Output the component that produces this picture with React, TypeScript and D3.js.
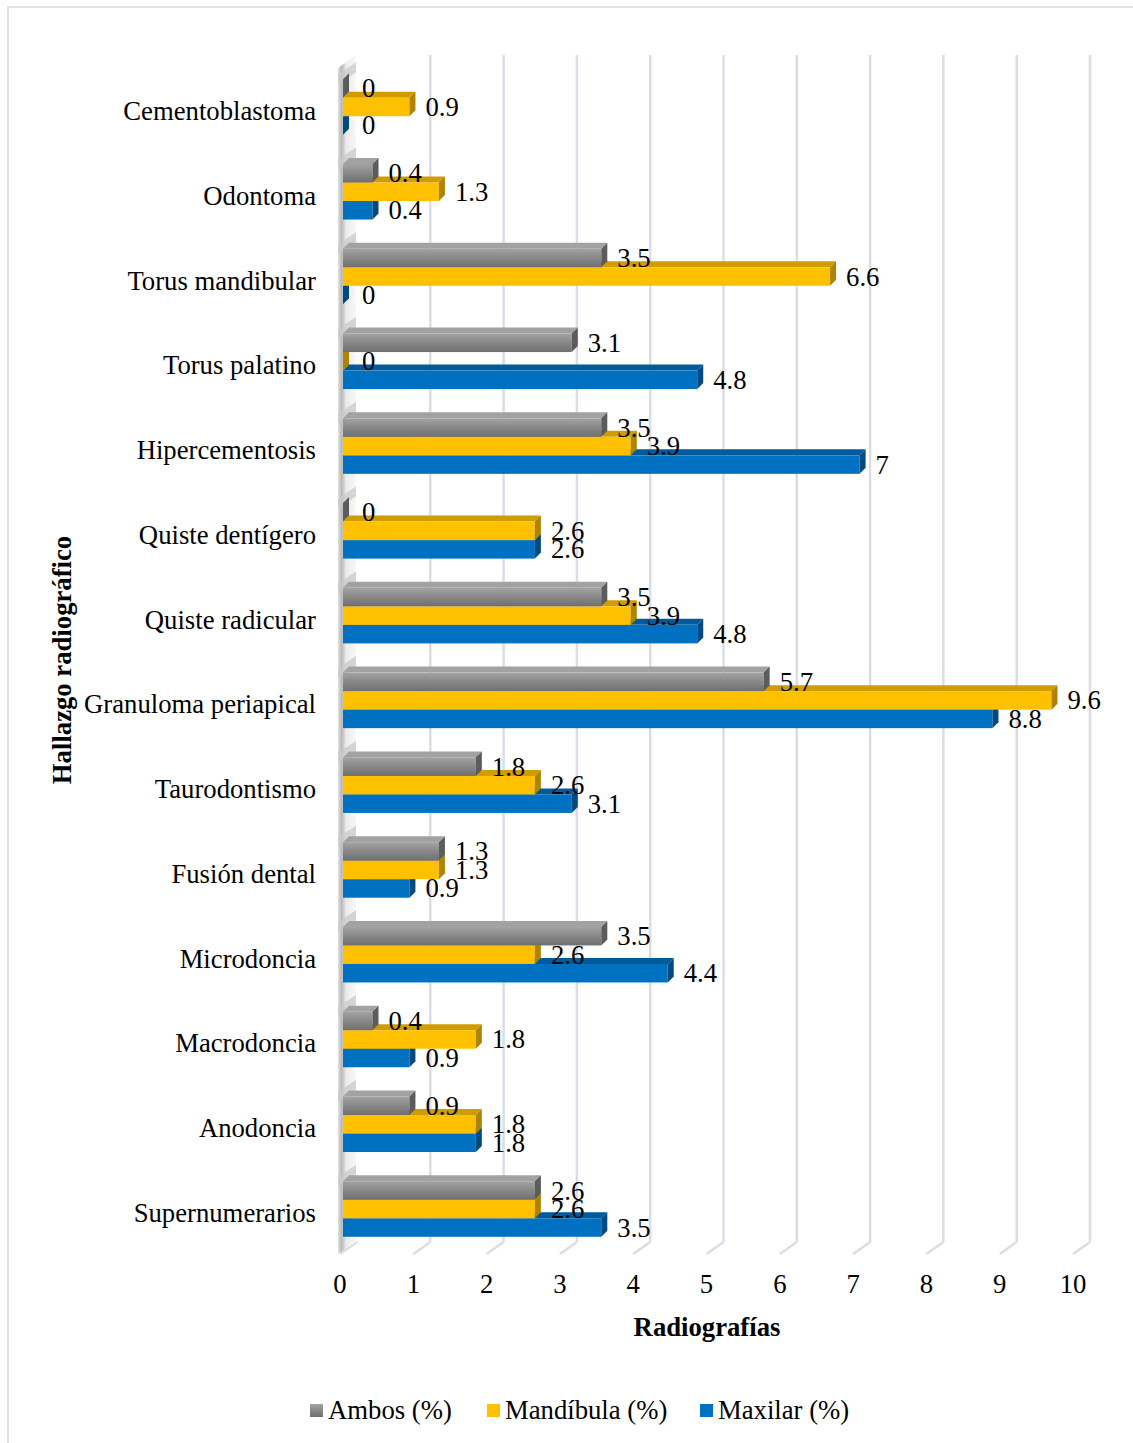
import React from "react";
import * as d3 from "d3";

const categories = [
  "Cementoblastoma",
  "Odontoma",
  "Torus mandibular",
  "Torus palatino",
  "Hipercementosis",
  "Quiste dentígero",
  "Quiste radicular",
  "Granuloma periapical",
  "Taurodontismo",
  "Fusión dental",
  "Microdoncia",
  "Macrodoncia",
  "Anodoncia",
  "Supernumerarios",
];

const ambos = [0, 0.4, 3.5, 3.1, 3.5, 0, 3.5, 5.7, 1.8, 1.3, 3.5, 0.4, 0.9, 2.6];
const mandibula = [0.9, 1.3, 6.6, 0, 3.9, 2.6, 3.9, 9.6, 2.6, 1.3, 2.6, 1.8, 1.8, 2.6];
const maxilar = [0, 0.4, 0, 4.8, 7, 2.6, 4.8, 8.8, 3.1, 0.9, 4.4, 0.9, 1.8, 3.5];

const seriesNames = ["Ambos (%)", "Mandíbula (%)", "Maxilar (%)"];
const seriesValues = [ambos, mandibula, maxilar];
const xTicks = [0, 1, 2, 3, 4, 5, 6, 7, 8, 9, 10];

const palette = [
  { front: "url(#grayFront)", top: "#a2a2a2", side: "#5c5c5c", legend: "url(#grayFront)" },
  { front: "#FFC000", top: "#cf9d00", side: "#ad8300", legend: "#FFC000" },
  { front: "#0070C0", top: "#005b9c", side: "#004a80", legend: "#0070C0" },
];

const W = 1133;
const H = 1443;
const FONT = "'Liberation Serif', 'Times New Roman', serif";
const FS = 26.7;
const DEPTH = 6;

export default function App() {
  // floor front edge (tick labels), bar plane, back wall
  const xFront = d3.scaleLinear().domain([0, 10]).range([340, 1073]);
  const xBar = d3.scaleLinear().domain([0, 10]).range([343, 1081]);
  const xBack = d3.scaleLinear().domain([0, 10]).range([357, 1090]);

  const y = d3
    .scaleBand<string>()
    .domain(categories)
    .range([64.6, 1251.4])
    .paddingInner(0.345)
    .paddingOuter(0.1725);
  const inner = d3
    .scaleBand<string>()
    .domain(seriesNames)
    .range([0, y.bandwidth()]);
  const bh = inner.bandwidth();

  const wallTop = 55;
  const floorBack = 1242;
  const floorFront = 1254;

  const bars: React.ReactNode[] = [];
  const labels: React.ReactNode[] = [];
  categories.forEach((cat, ci) => {
    // draw from bottom series to top so upper fronts cover lower top faces
    for (let si = seriesNames.length - 1; si >= 0; si--) {
      const v = seriesValues[si][ci];
      const yt = (y(cat) as number) + (inner(seriesNames[si]) as number);
      const x0 = xBar(0);
      const x1 = xBar(v);
      const c = palette[si];
      bars.push(
        <g key={`${ci}-${si}`}>
          <polygon
            points={`${x0},${yt} ${x0 + DEPTH},${yt - DEPTH} ${x1 + DEPTH},${yt - DEPTH} ${x1},${yt}`}
            fill={c.top}
          />
          {v > 0 && <rect x={x0} y={yt} width={x1 - x0} height={bh} fill={c.front} />}
          <polygon
            points={`${x1},${yt} ${x1 + DEPTH},${yt - DEPTH} ${x1 + DEPTH},${yt + bh - DEPTH} ${x1},${yt + bh}`}
            fill={c.side}
          />
        </g>
      );
      labels.push(
        <text
          key={`l-${ci}-${si}`}
          x={x1 + (v === 0 ? 19 : 16)}
          y={yt + bh / 2 + 9}
          fontSize={FS}
          fontFamily={FONT}
          fill="#000"
        >
          {String(v)}
        </text>
      );
    }
  });

  // wall shading patches between category groups
  const wallPatches = categories.map((cat, ci) => {
    const gy = (y(cat) as number) - (y.step() - y.bandwidth()) / 2;
    return (
      <polygon
        key={`w-${ci}`}
        points={`338,${gy + 10} 356,${gy - 2} 356,${gy + 8} 338,${gy + 20}`}
        fill="#c9c9c9"
        opacity={0.75}
      />
    );
  });

  const legendX = [310, 487, 700];

  return (
    <svg
      width={W}
      height={H}
      style={{ position: "absolute", left: 0, top: 0, background: "#fff" }}
    >
      <defs>
        <linearGradient id="grayFront" x1="0" y1="0" x2="0" y2="1">
          <stop offset="0" stopColor="#a3a3a3" />
          <stop offset="0.45" stopColor="#8a8a8a" />
          <stop offset="1" stopColor="#6f6f6f" />
        </linearGradient>
        <linearGradient id="wallGrad" x1="0" y1="0" x2="1" y2="0">
          <stop offset="0" stopColor="#e2e2e2" />
          <stop offset="0.2" stopColor="#b8b8b8" />
          <stop offset="0.45" stopColor="#ebebeb" />
          <stop offset="1" stopColor="#f8f8f8" />
        </linearGradient>
      </defs>

      {/* outer frame */}
      <rect x={8} y={7} width={W + 20} height={H + 20} fill="#fff" stroke="#dfe3e8" strokeWidth={2} />

      {/* back-wall gridlines and floor edges */}
      {xTicks.map((t) => (
        <g key={`g-${t}`}>
          {t > 0 && (
            <line x1={xBack(t)} x2={xBack(t)} y1={wallTop} y2={floorBack} stroke="#dcdce6" strokeWidth={2.5} />
          )}
          <line
            x1={xBack(t)}
            y1={floorBack}
            x2={xFront(t)}
            y2={floorFront}
            stroke="#dcdce6"
            strokeWidth={2.5}
          />
        </g>
      ))}

      {/* side wall */}
      <polygon
        points={`338,${wallTop + 13} 356,${wallTop} 356,${floorBack} 338,${floorBack + 12}`}
        fill="url(#wallGrad)"
      />
      {wallPatches}

      {bars}
      {labels}

      {/* category labels */}
      {categories.map((cat) => (
        <text
          key={`c-${cat}`}
          x={316}
          y={(y(cat) as number) + y.bandwidth() / 2 + 13}
          textAnchor="end"
          fontSize={FS}
          fontFamily={FONT}
        >
          {cat}
        </text>
      ))}

      {/* x tick labels */}
      {xTicks.map((t) => (
        <text key={`t-${t}`} x={xFront(t)} y={1293} textAnchor="middle" fontSize={FS} fontFamily={FONT}>
          {t}
        </text>
      ))}

      <text x={707} y={1336} textAnchor="middle" fontSize={FS} fontWeight="bold" fontFamily={FONT}>
        Radiografías
      </text>
      <text
        transform="translate(71,660) rotate(-90)"
        textAnchor="middle"
        fontSize={FS}
        fontWeight="bold"
        fontFamily={FONT}
      >
        Hallazgo radiográfico
      </text>

      {/* legend */}
      {seriesNames.map((name, i) => (
        <g key={`lg-${i}`}>
          <rect x={legendX[i]} y={1404} width={13} height={13} fill={palette[i].legend} />
          <text x={legendX[i] + 18} y={1419} fontSize={FS} fontFamily={FONT}>
            {name}
          </text>
        </g>
      ))}
    </svg>
  );
}
